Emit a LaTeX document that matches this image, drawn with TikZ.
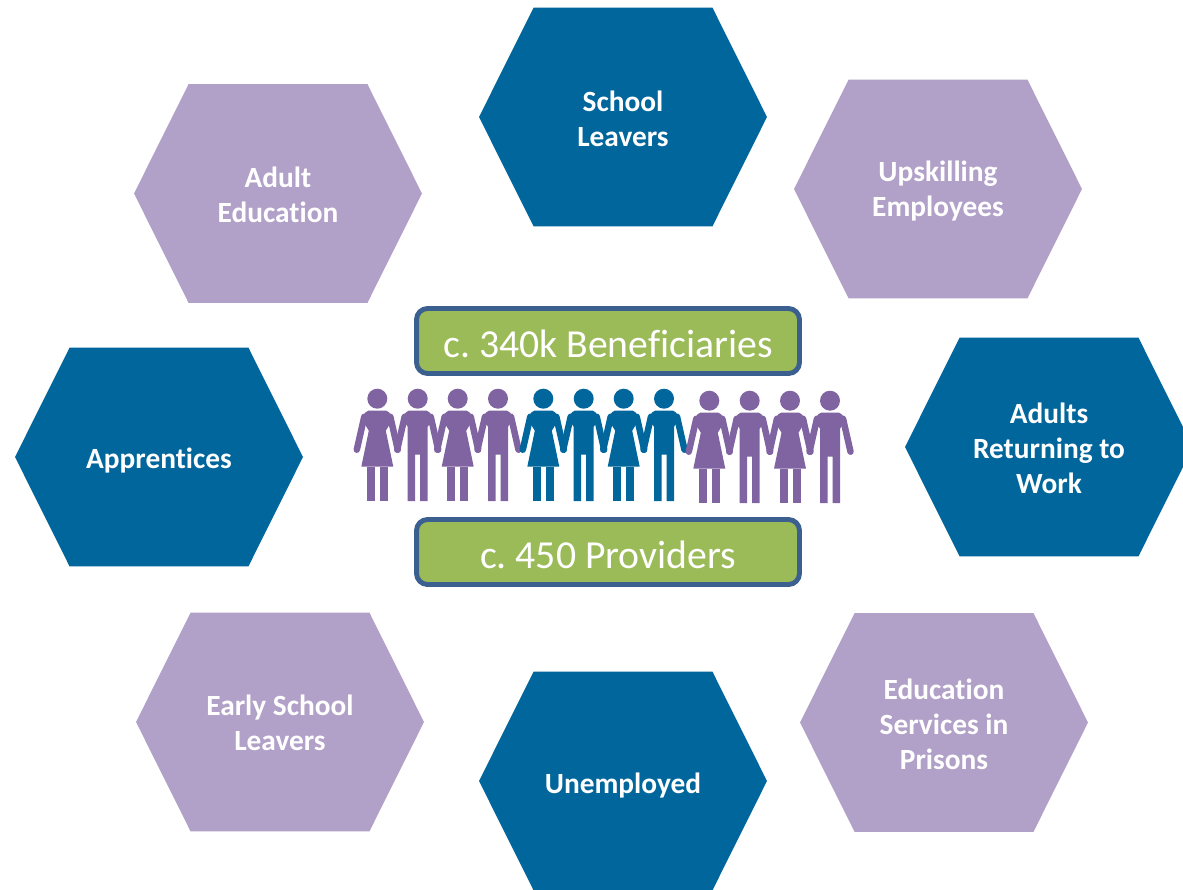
\documentclass[tikz,border=0pt]{standalone}
\usepackage{fontspec}
\setmainfont[Ligatures=CommonOff]{Carlito}
\usepackage{tikz}
\usetikzlibrary{shapes,positioning}
\definecolor{hexblue}{HTML}{00669B}
\definecolor{hexlilac}{HTML}{B1A0C7}
\definecolor{boxgreen}{HTML}{9BBB59}
\definecolor{boxline}{HTML}{3B6090}
\definecolor{figpurple}{HTML}{8064A2}
\newcommand{\lift}[1]{\rule{0pt}{#1pt}}
\tikzstyle{hex}=[signal, signal to=west and east, signal pointer angle=127, minimum width=5.76cm, minimum height=4.38cm, inner sep=0pt, text=white, align=center, font=\fontsize{16.7}{19.9}\selectfont\bfseries]
\tikzstyle{hex1}=[hex, fill=hexblue]
\tikzstyle{hex2}=[hex, fill=hexlilac]
\tikzstyle{count}=[rectangle, draw=boxline, line width=2.8pt, fill=boxgreen, rounded corners=0.22cm, minimum width=7.66cm, minimum height=1.3cm, inner sep=0pt, text=white, font=\fontsize{22.6}{25}\selectfont\frenchspacing]
\tikzset{
  woman/.pic={
    \fill (0,0) circle (10);
    \draw[line width=0.13cm, line cap=round] (-13,18) -- (-20.5,51);
    \draw[line width=0.13cm, line cap=round] (13,18) -- (20.5,51);
    \fill (-16.5,19) to[out=-80, in=180] (-9,12) -- (9,12) to[out=0, in=-100] (16.5,19) -- (8.5,32) -- (16,68) -- (-16,68) -- (-8.5,32) -- cycle;
    \fill (-10.5,68) rectangle (-2.5,102.5);
    \fill (2.5,68) rectangle (10.5,102.5);
  },
  man/.pic={
    \fill (0,0) circle (10);
    \draw[line width=0.13cm, line cap=round] (-13,18) -- (-20.5,51);
    \draw[line width=0.13cm, line cap=round] (13,18) -- (20.5,51);
    \fill (-16.5,19) to[out=-80, in=180] (-9,12) -- (9,12) to[out=0, in=-100] (16.5,19) -- (10,28) -- (10,102.5) -- (2.5,102.5) -- (2.5,56) -- (-2.5,56) -- (-2.5,102.5) -- (-10,102.5) -- (-10,28) -- cycle;
  }
}

\begin{document}
\begin{tikzpicture}[x=0.02cm,y=-0.02cm]
\useasboundingbox (0,0) rectangle (1183,889);
\clip (0,0) rectangle (1183,889);

%Hexagons
\node[hex1] (school) at (623,117){\lift{13.7}School\\Leavers};
\node[hex2] (adulted) at (278,193.5){\lift{13.3}Adult\\Education};
\node[hex2] (upskill) at (938,189){\lift{14.5}Upskilling\\Employees};
\node[hex1] (appr) at (159,457){\lift{15.6}Apprentices};
\node[hex1] (return) at (1049,447){\lift{13}Adults\\Returning to\\Work};
\node[hex2] (early) at (280,722){\lift{13}Early School\\Leavers};
\node[hex2] (prison) at (944,722.5){\lift{13.3}Education\\Services in\\Prisons};
\node[hex1] (unemp) at (623,781){\lift{16.8}Unemployed};

%Centre boxes
\node[count] (benef) at (608,341){\lift{18.8}c. 340k Beneficiaries};
\node[count] (prov) at (608,552){\lift{18.8}c. 450 Providers};

%People
\foreach \i/\x/\y/\kind/\col in {1/377.3/398.7/woman/figpurple,2/417.7/398.7/man/figpurple,3/457.7/398.7/woman/figpurple,4/498/398.7/man/figpurple,5/543.3/398.7/woman/hexblue,6/583.7/398.7/man/hexblue,7/623.7/398.7/woman/hexblue,8/664/398.7/man/hexblue,9/709.3/400.7/woman/figpurple,10/749.7/400.7/man/figpurple,11/790/400.7/woman/figpurple,12/830/400.7/man/figpurple}
  \pic[fill=\col, draw=none, color=\col] (fig\i) at (\x,\y) {\kind};

\end{tikzpicture}
\end{document}
